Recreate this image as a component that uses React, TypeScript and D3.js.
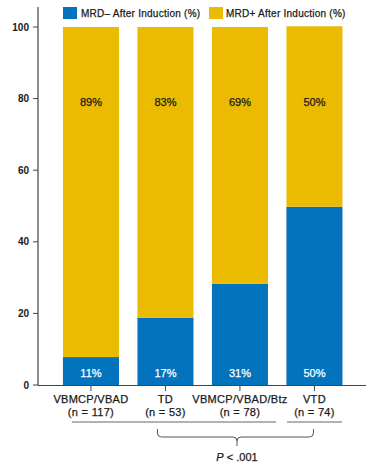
import React from "react";
import * as d3 from "d3";

const categories = ["VBMCP/VBAD", "TD", "VBMCP/VBAD/Btz", "VTD"];
const nLabels = ["(n = 117)", "(n = 53)", "(n = 78)", "(n = 74)"];
const mrdNeg = [7.8, 18.8, 28.3, 49.8];
const mrdPos = [92.2, 81.2, 71.7, 50.4];
const mrdNegLabels = ["11%", "17%", "31%", "50%"];
const mrdPosLabels = ["89%", "83%", "69%", "50%"];
const yTicks = [0, 20, 40, 60, 80, 100];
const seriesNames = ["MRD\u2013 After Induction (%)", "MRD+ After Induction (%)"];
const pLabel = "< .001";

const BLUE = "#0473BD";
const YELLOW = "#EABB00";
const FONT = "'Liberation Sans', Arial, Helvetica, sans-serif";
const TXT = "#1a1a1a";

export default function App() {
  const W = 370, H = 464;
  const x0 = 38, xEnd = 366;
  const y = d3.scaleLinear().domain([0, 100]).range([385, 27]);
  const x = d3
    .scaleBand<string>()
    .domain(categories)
    .range([53.7, 351.7])
    .paddingInner(0.248)
    .paddingOuter(0.124);
  const bw = x.bandwidth();
  const cx = (c: string) => (x(c) as number) + bw / 2;

  const stack = d3.stack<number>().keys(["neg", "pos"]).value((i, k) =>
    k === "neg" ? mrdNeg[i] : mrdPos[i]
  )(categories.map((_, i) => i));

  const colors = [BLUE, YELLOW];

  const braceY1 = 429, braceY2 = 437, braceMidX = 237;
  const bl = cx(categories[1]) - 8, br = cx(categories[3]) - 1;
  const r = 4;
  const bracePath = `M${bl},${braceY1} L${bl},${braceY2 - r} Q${bl},${braceY2} ${bl + r},${braceY2} L${braceMidX - r},${braceY2} Q${braceMidX},${braceY2} ${braceMidX},${braceY2 + r} L${braceMidX},${446} M${braceMidX},${braceY2 + r} Q${braceMidX},${braceY2} ${braceMidX + r},${braceY2} L${br - r},${braceY2} Q${br},${braceY2} ${br},${braceY2 - r} L${br},${braceY1}`;

  const heavy = { stroke: TXT, strokeWidth: 0.25 };
  const heavyW = { stroke: "#fff", strokeWidth: 0.25 };

  return (
    <svg
      width={W}
      height={H}
      style={{ position: "absolute", left: 0, top: 0, background: "#fff" }}
      fontFamily={FONT}
    >
      {/* legend */}
      <rect x={63} y={7} width={14} height={12} fill={BLUE} />
      <text x={81} y={17} fontSize={10} letterSpacing={0.25} fill={TXT} {...heavy}>{seriesNames[0]}</text>
      <rect x={209} y={7} width={14} height={12} fill={YELLOW} />
      <text x={226} y={17} fontSize={10} letterSpacing={0.25} fill={TXT} {...heavy}>{seriesNames[1]}</text>

      {/* bars */}
      {stack.map((layer, li) =>
        layer.map((d, i) => (
          <rect
            key={`${li}-${i}`}
            x={x(categories[i])}
            y={y(d[1])}
            width={bw}
            height={y(d[0]) - y(d[1])}
            fill={colors[li]}
          />
        ))
      )}

      {/* value labels */}
      {categories.map((c, i) => (
        <text key={"p" + c} x={cx(c)} y={106} textAnchor="middle" fontSize={11} fill={TXT} {...heavy}>
          {mrdPosLabels[i]}
        </text>
      ))}
      {categories.map((c, i) => (
        <text key={"n" + c} x={cx(c)} y={377} textAnchor="middle" fontSize={11} fill="#fff" {...heavyW}>
          {mrdNegLabels[i]}
        </text>
      ))}

      {/* y axis */}
      <line x1={x0} x2={x0} y1={7} y2={385.5} stroke="#444" strokeWidth={1.2} />
      {yTicks.map((t) => (
        <g key={t}>
          <line x1={33} x2={x0} y1={y(t)} y2={y(t)} stroke="#444" strokeWidth={1} />
          <text x={29} y={y(t) + 3.5} textAnchor="end" fontSize={10} fontWeight="bold" fill={TXT}>
            {t}
          </text>
        </g>
      ))}

      {/* x axis */}
      <line x1={x0} x2={xEnd} y1={385.5} y2={385.5} stroke="#444" strokeWidth={1.2} />
      {categories.map((c, i) => (
        <g key={"x" + c}>
          <line x1={cx(c)} x2={cx(c)} y1={385.5} y2={391} stroke="#444" strokeWidth={1} />
          <text x={cx(c)} y={403} textAnchor="middle" fontSize={11} letterSpacing={0.3} fill={TXT} {...heavy}>{c}</text>
          <text x={cx(c)} y={416} textAnchor="middle" fontSize={11} letterSpacing={0.3} fill={TXT} {...heavy}>{nLabels[i]}</text>
        </g>
      ))}

      {/* group lines */}
      <line x1={72} x2={276} y1={422} y2={422} stroke="#555" strokeWidth={0.9} />
      <line x1={287} x2={342} y1={422} y2={422} stroke="#555" strokeWidth={0.9} />
      <path d={bracePath} fill="none" stroke="#555" strokeWidth={1} />
      <text x={braceMidX} y={461} textAnchor="middle" fontSize={11} fill={TXT} {...heavy}>
        <tspan fontStyle="italic">P</tspan> {pLabel}
      </text>
    </svg>
  );
}
